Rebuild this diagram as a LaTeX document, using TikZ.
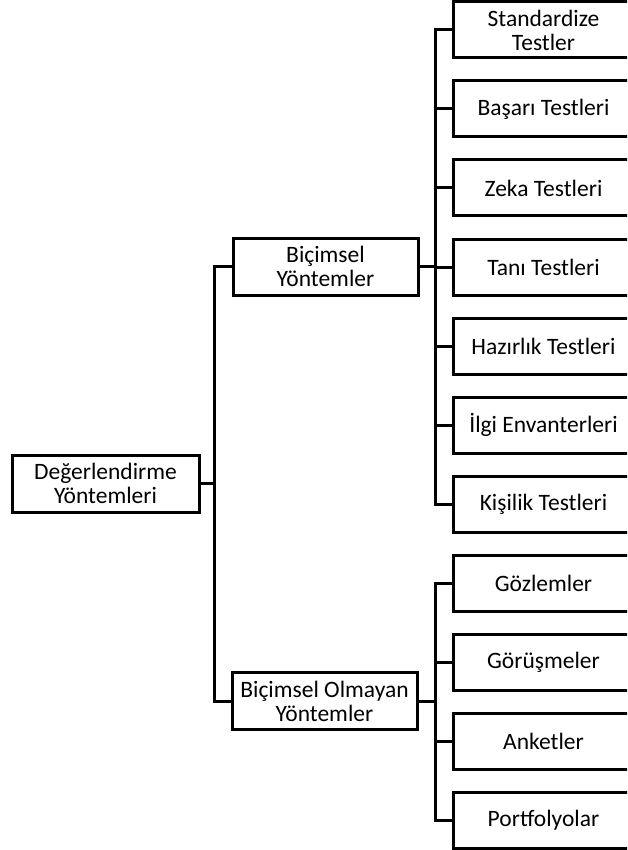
\documentclass[tikz,border=0pt]{standalone}
\usepackage{fontspec}
\setmainfont{Carlito}
\begin{document}
\begin{tikzpicture}[x=1pt,y=-1pt,
  box/.style={draw=black, line width=3pt, align=center, inner sep=0pt,
    font=\fontsize{23.5}{24}\selectfont},
  midbox/.style={box, minimum width=185pt, minimum height=57pt},
  leafbox/.style={box, minimum width=181pt, minimum height=56pt},
  link/.style={draw=black, line width=3pt}]
\clip (0,0) rectangle (627,850);
\fill[white] (0,0) rectangle (627,850);

% root and the two method groups
\node[box, minimum width=187pt, minimum height=57pt] (root) at (105.5,483.5) {Değerlendirme\\Yöntemleri};
\node[midbox] (bic) at (325.5,266.5) {Biçimsel\\Yöntemler};
\node[midbox] (bico) at (324.5,701) {Biçimsel Olmayan\\Yöntemler};

% formal methods
\node[leafbox] (l1) at (543.5,30)  {Standardize\\Testler};
\node[leafbox] (l2) at (543.5,109) {Başarı Testleri};
\node[leafbox] (l3) at (543.5,188) {Zeka Testleri};
\node[leafbox] (l4) at (543.5,267) {Tanı Testleri};
\node[leafbox] (l5) at (543.5,346) {Hazırlık Testleri};
\node[leafbox] (l6) at (543.5,425) {İlgi Envanterleri};
\node[leafbox] (l7) at (543.5,504) {Kişilik Testleri};

% informal methods
\node[leafbox] (m1) at (543.5,583) {Gözlemler};
\node[leafbox] (m2) at (543.5,662) {Görüşmeler};
\node[leafbox] (m3) at (543.5,741) {Anketler};
\node[leafbox] (m4) at (543.5,820) {Portfolyolar};

% connectors
\coordinate (rj) at (214,483.5);
\draw[link] (root.east) -- (rj);
\draw[link] (rj) |- (bic.west);
\draw[link] (rj) |- (bico.west);

\coordinate (bj) at (435,266.5);
\draw[link] (bic.east) -- (bj);
\foreach \n in {l1,l2,l3,l4,l5,l6,l7}
  \draw[link] (bj) |- (\n.west);

\coordinate (cj) at (435,701);
\draw[link] (bico.east) -- (cj);
\foreach \n in {m1,m2,m3,m4}
  \draw[link] (cj) |- (\n.west);
\end{tikzpicture}
\end{document}
